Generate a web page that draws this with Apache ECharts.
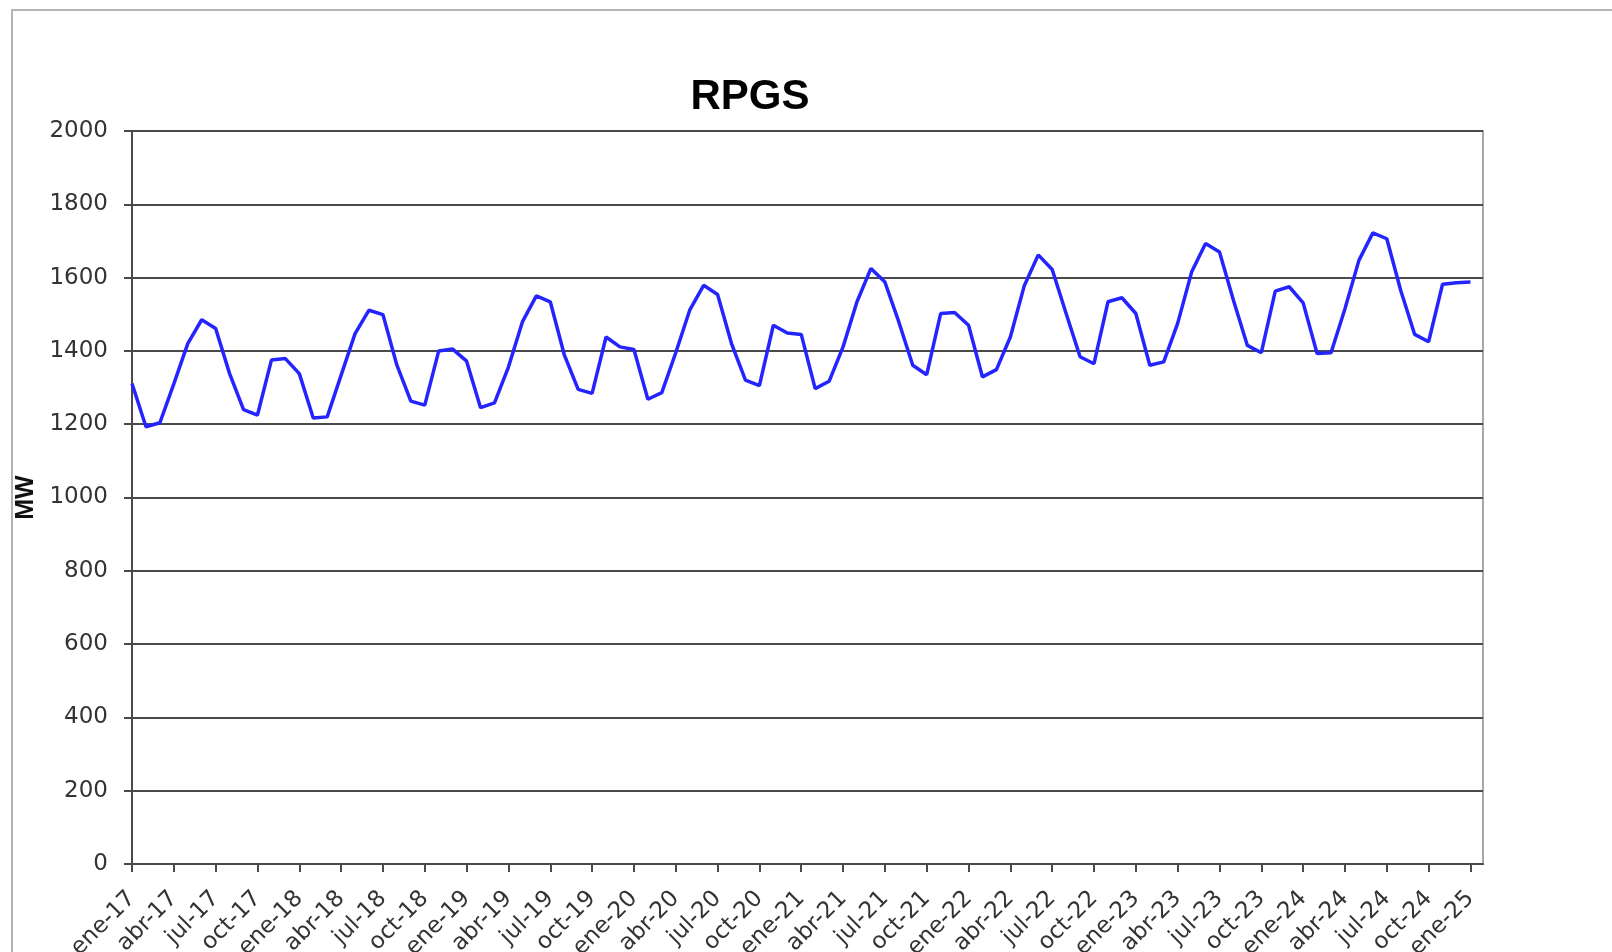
<!DOCTYPE html>
<html>
<head>
<meta charset="utf-8">
<title>RPGS</title>
<script src="https://cdn.jsdelivr.net/npm/echarts@6/dist/echarts.min.js"></script>
<style>
  html, body { margin: 0; padding: 0; background: #fff; }
  #chart { width: 1612px; height: 952px; }
</style>
</head>
<body>
<div id="chart"></div>
<script>
// etiquetas del eje x (una cada 3 meses)
const tickLabels = [
  'ene-17', 'abr-17', 'jul-17', 'oct-17',
  'ene-18', 'abr-18', 'jul-18', 'oct-18',
  'ene-19', 'abr-19', 'jul-19', 'oct-19',
  'ene-20', 'abr-20', 'jul-20', 'oct-20',
  'ene-21', 'abr-21', 'jul-21', 'oct-21',
  'ene-22', 'abr-22', 'jul-22', 'oct-22',
  'ene-23', 'abr-23', 'jul-23', 'oct-23',
  'ene-24', 'abr-24', 'jul-24', 'oct-24',
  'ene-25'
]

// RPGS mensual (MW), ene-17 .. ene-25
const values = [
  1311, 1193, 1204, 1310, 1420, 1485, 1461, 1338, 1240, 1225, 1375, 1379,
  1338, 1217, 1220, 1334, 1447, 1511, 1499, 1361, 1263, 1252, 1400, 1405,
  1372, 1245, 1258, 1356, 1479, 1550, 1534, 1390, 1295, 1284, 1438, 1411,
  1404, 1268, 1286, 1395, 1511, 1579, 1554, 1420, 1320, 1305, 1470, 1449,
  1445, 1297, 1317, 1411, 1534, 1625, 1588, 1479, 1361, 1335, 1502, 1505,
  1470, 1329, 1349, 1438, 1578, 1662, 1622, 1502, 1384, 1365, 1534, 1545,
  1502, 1361, 1370, 1475, 1615, 1693, 1670, 1538, 1415, 1395, 1563, 1575,
  1531, 1393, 1395, 1515, 1647, 1722, 1706, 1565, 1445, 1425, 1582, 1586,
  1588
]

const yTicks = [0, 200, 400, 600, 800, 1000, 1200, 1400, 1600, 1800, 2000]

const tickPos = tickLabels.map((_, k) => k * 3)

const chart = echarts.init(document.getElementById('chart'))

const option = {
  backgroundColor: '#fff',
  animation: false,
  textStyle: { fontFamily: 'DejaVu Sans' },
  title: {
    text: 'RPGS',
    left: 745,
    top: 71,
    textAlign: 'center',
    textStyle: {
      fontFamily: 'Liberation Sans',
      fontSize: 42,
      fontWeight: 'bold',
      color: '#000'
    }
  },
  graphic: [
    {
      type: 'rect',
      silent: true,
      shape: { x: 12, y: 10, width: 1700, height: 1000 },
      style: { fill: null, stroke: '#b4b4b4', lineWidth: 2 }
    }
  ],
  grid: {
    left: 132,
    top: 131,
    right: 129,
    bottom: 88,
    outerBoundsMode: 'none',
    containLabel: false,
    show: true,
    borderColor: '#a8a8a8',
    borderWidth: 2
  },
  xAxis: {
    type: 'value',
    min: 0,
    max: 96.9,
    splitLine: { show: false },
    axisLine: { onZero: false, lineStyle: { color: '#4a4a4a', width: 2 } },
    axisTick: {
      show: true,
      customValues: tickPos,
      length: 8,
      lineStyle: { color: '#4a4a4a', width: 2 }
    },
    axisLabel: {
      customValues: tickPos,
      rotate: 45,
      margin: 31,
      fontSize: 23,
      color: '#333',
      formatter: v => tickLabels[Math.round(v / 3)]
    }
  },
  yAxis: {
    type: 'value',
    min: 0,
    max: 2000,
    interval: 200,
    name: 'MW',
    nameLocation: 'middle',
    nameGap: 83,
    nameTextStyle: {
      fontFamily: 'Liberation Sans',
      fontSize: 25,
      fontWeight: 'bold',
      color: '#111'
    },
    axisLine: { show: true, lineStyle: { color: '#4a4a4a', width: 2 } },
    axisTick: { show: true, length: 8, lineStyle: { color: '#4a4a4a', width: 2 } },
    axisLabel: {
      margin: 24,
      fontSize: 23,
      color: '#333',
      formatter: v => (yTicks.indexOf(v) >= 0 ? String(v) : '')
    },
    splitLine: { lineStyle: { color: '#4a4a4a', width: 2 } }
  },
  series: [
    {
      name: 'RPGS',
      type: 'line',
      data: values.map((v, i) => [i, v]),
      showSymbol: false,
      lineStyle: { color: '#2424ff', width: 3.5 },
      itemStyle: { color: '#2424ff' }
    }
  ]
}

chart.setOption(option)
</script>
</body>
</html>
